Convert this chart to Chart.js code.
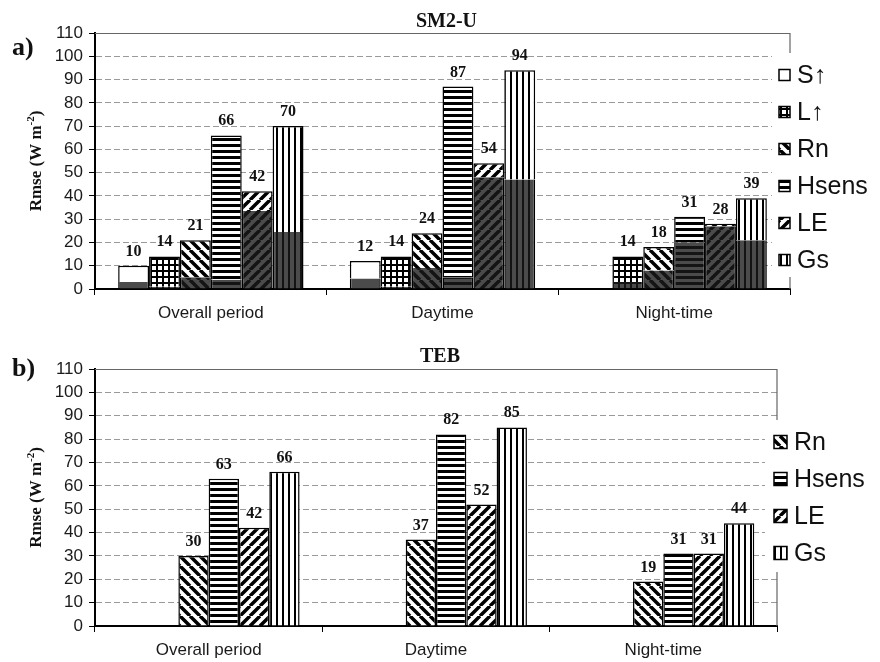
<!DOCTYPE html>
<html lang="en">
<head>
<meta charset="UTF-8" />
<title>Rmse SM2-U / TEB</title>
<script src="https://cdn.jsdelivr.net/npm/chart.js@4"></script>
<style>
  html, body { margin: 0; padding: 0; background: #fff; }
  canvas { display: block; }
</style>
</head>
<body>
<canvas id="chartA" width="880" height="326"></canvas>
<canvas id="chartB" width="880" height="336"></canvas>
<script>
// ---- data ----
const periods = ['Overall period', 'Daytime', 'Night-time'];
const fluxNames = ['S\u2191', 'L\u2191', 'Rn', 'Hsens', 'LE', 'Gs'];
const yMax = 110;
const yStep = 10;

// SM2-U rmse (bar totals)
const sm2uS = [10, 12, null];
const sm2uL = [14, 14, 14];
const sm2uRn = [21, 24, 18];
const sm2uH = [66, 87, 31];
const sm2uLE = [42, 54, 28];
const sm2uGs = [70, 94, 39];
// SM2-U dark lower part of each bar
const sm2uSDark = [3, 4.5, null];
const sm2uLDark = [1, 1, 3];
const sm2uRnDark = [5, 9, 8];
const sm2uHDark = [4, 5, 20];
const sm2uLEDark = [33.5, 48, 27];
const sm2uGsDark = [24.5, 47, 21];

// TEB rmse
const tebS = [null, null, null];
const tebL = [null, null, null];
const tebRn = [30, 37, 19];
const tebH = [63, 82, 31];
const tebLE = [42, 52, 31];
const tebGs = [66, 85, 44];

// ---- hatch patterns ----
const kinds = ['plain', 'grid', 'back', 'horiz', 'fwd', 'vert'];

function hatch(kind, bg, fg) {
  if (kind === 'plain') return bg;
  const c = document.createElement('canvas');
  const g = c.getContext('2d');
  let s = 6;
  if (kind === 'back' || kind === 'fwd') s = 10;
  c.width = s; c.height = s;
  g.fillStyle = bg;
  g.fillRect(0, 0, s, s);
  g.fillStyle = fg;
  g.strokeStyle = fg;
  if (kind === 'grid') {
    g.fillRect(0, 0, s, 2);
    g.fillRect(0, 0, 2, s);
  } else if (kind === 'horiz') {
    g.fillRect(0, 0, s, 3);
  } else if (kind === 'vert') {
    g.fillRect(0, 0, 2, s);
  } else {
    g.lineWidth = 3.5;
    g.beginPath();
    for (let k = -1; k <= 1; k++) {
      if (kind === 'back') { g.moveTo(k * s, 0); g.lineTo(k * s + s, s); }
      else { g.moveTo(k * s, s); g.lineTo(k * s + s, 0); }
    }
    g.stroke();
  }
  return g.createPattern(c, 'repeat');
}

const lightFill = kinds.map(k => hatch(k, '#ffffff', '#000000'));
const darkFill = kinds.map(k => hatch(k, '#4b4b4b', '#141414'));

// ---- drawing helpers (titles, legend, labels, frame) ----
const decor = {
  id: 'decor',
  afterDatasetsDraw(chart) {
    const ctx = chart.ctx;
    const y = chart.scales.y;
    ctx.save();
    ctx.font = 'bold 16px "Liberation Serif", "Times New Roman", serif';
    ctx.fillStyle = '#111';
    ctx.textAlign = 'center';
    ctx.textBaseline = 'alphabetic';
    chart.data.datasets.forEach((ds, di) => {
      if (!ds.totals) return;
      const meta = chart.getDatasetMeta(di);
      ds.totals.forEach((v, i) => {
        if (v == null) return;
        ctx.fillText(String(v), meta.data[i].x, y.getPixelForValue(v) - 10);
      });
    });
    ctx.restore();
  },
  afterDraw(chart, args, o) {
    const ctx = chart.ctx;
    const ca = chart.chartArea;
    ctx.save();
    // frame
    ctx.strokeStyle = '#666';
    ctx.lineWidth = 1.2;
    ctx.beginPath();
    ctx.moveTo(ca.left, ca.top + 0.5);
    ctx.lineTo(ca.right, ca.top + 0.5);
    ctx.lineTo(ca.right, ca.bottom);
    ctx.stroke();
    // legend
    const lb = o.legendBg;
    ctx.fillStyle = '#fff';
    ctx.fillRect(lb[0], lb[1], lb[2], lb[3]);
    ctx.font = '25px "Liberation Sans", Arial, sans-serif';
    ctx.textAlign = 'left';
    ctx.textBaseline = 'middle';
    let row = 0;
    chart.data.datasets.forEach(ds => {
      if (!ds.inLegend) return;
      const cy = o.legendY + row * o.legendGap;
      const b = o.boxSize;
      ctx.fillStyle = ds.backgroundColor;
      ctx.fillRect(o.legendX, cy - b / 2, b, b);
      ctx.strokeStyle = '#000';
      ctx.lineWidth = 1.5;
      ctx.strokeRect(o.legendX, cy - b / 2, b, b);
      ctx.fillStyle = '#111';
      ctx.fillText(ds.label, o.legendX + b + 7, cy + 1);
      row++;
    });
    // title and panel letter
    ctx.fillStyle = '#111';
    ctx.textBaseline = 'alphabetic';
    ctx.textAlign = 'center';
    ctx.font = 'bold 20px "Liberation Serif", "Times New Roman", serif';
    ctx.fillText(o.title, (ca.left + ca.right) / 2 + 4, o.titleBase);
    ctx.textAlign = 'left';
    ctx.font = 'bold 26px "Liberation Serif", "Times New Roman", serif';
    ctx.fillText(o.letter, 12, o.letterBase);
    // y axis title with superscript
    const cy = (ca.top + ca.bottom) / 2;
    ctx.translate(41, cy);
    ctx.rotate(-Math.PI / 2);
    const big = 'bold 17px "Liberation Serif", "Times New Roman", serif';
    const small = 'bold 11px "Liberation Serif", "Times New Roman", serif';
    ctx.font = big;
    const w1 = ctx.measureText('Rmse (W m').width;
    const w3 = ctx.measureText(')').width;
    ctx.font = small;
    const w2 = ctx.measureText('-2').width;
    let x = -(w1 + w2 + w3) / 2;
    ctx.font = big;
    ctx.fillText('Rmse (W m', x, 0);
    x += w1;
    ctx.font = small;
    ctx.fillText('-2', x, -7);
    x += w2;
    ctx.font = big;
    ctx.fillText(')', x, 0);
    ctx.restore();
  }
};

function scalesFor(stacked, xHeight) {
  return {
    x: {
      stacked: stacked,
      grid: { display: true, drawOnChartArea: false, tickLength: 6, tickColor: '#000', tickWidth: 1 },
      border: { display: true, color: '#000', width: 2 },
      ticks: { color: '#1a1a1a', padding: 8, font: { family: '"Liberation Sans", Arial, sans-serif', size: 17 } },
      afterFit: s => { s.height = xHeight; }
    },
    y: {
      stacked: stacked,
      min: 0,
      max: yMax,
      grid: { color: '#9a9a9a', lineWidth: 1, tickLength: 6, tickColor: '#000', tickWidth: 1, tickBorderDash: [] },
      border: { display: true, color: '#000', width: 2, dash: [6, 3] },
      ticks: { stepSize: yStep, autoSkip: false, color: '#1a1a1a', padding: 6, font: { family: '"Liberation Sans", Arial, sans-serif', size: 17 } },
      afterFit: s => { s.width = 95; }
    }
  };
}

// ---- panel a: SM2-U ----
const sm2uTotals = [sm2uS, sm2uL, sm2uRn, sm2uH, sm2uLE, sm2uGs];
const sm2uDark = [sm2uSDark, sm2uLDark, sm2uRnDark, sm2uHDark, sm2uLEDark, sm2uGsDark];
const datasetsA = [];
fluxNames.forEach((name, k) => {
  datasetsA.push({
    label: name + ' dark',
    stack: name,
    data: sm2uDark[k],
    backgroundColor: darkFill[k],
    borderColor: '#000',
    borderWidth: { left: 1.5, right: 1.5, top: 0, bottom: 0 }
  });
  datasetsA.push({
    label: name,
    stack: name,
    inLegend: true,
    totals: sm2uTotals[k],
    data: sm2uTotals[k].map((v, i) => v == null ? null : v - sm2uDark[k][i]),
    backgroundColor: lightFill[k],
    borderColor: '#000',
    borderWidth: { left: 1.5, right: 1.5, top: 1.5, bottom: 0 }
  });
});

new Chart(document.getElementById('chartA'), {
  type: 'bar',
  data: { labels: periods, datasets: datasetsA },
  options: {
    responsive: false,
    animation: false,
    categoryPercentage: 0.8,
    barPercentage: 1.0,
    layout: { padding: { top: 33, right: 90, left: 0, bottom: 0 } },
    scales: scalesFor(true, 37),
    plugins: {
      legend: { display: false },
      tooltip: { enabled: false },
      decor: {
        title: 'SM2-U', titleBase: 27, letter: 'a)', letterBase: 55,
        legendBg: [772, 53, 108, 224], legendX: 779, legendY: 75, legendGap: 37, boxSize: 11
      }
    }
  },
  plugins: [decor]
});

// ---- panel b: TEB ----
const tebTotals = [tebS, tebL, tebRn, tebH, tebLE, tebGs];
const datasetsB = fluxNames.map((name, k) => ({
  label: name,
  inLegend: k >= 2,
  totals: tebTotals[k],
  data: tebTotals[k],
  backgroundColor: lightFill[k],
  borderColor: '#000',
  borderWidth: { left: 1.5, right: 1.5, top: 1.5, bottom: 0 }
}));

new Chart(document.getElementById('chartB'), {
  type: 'bar',
  data: { labels: periods, datasets: datasetsB },
  options: {
    responsive: false,
    animation: false,
    categoryPercentage: 0.8,
    barPercentage: 1.0,
    layout: { padding: { top: 43, right: 103, left: 0, bottom: 0 } },
    scales: scalesFor(false, 36),
    plugins: {
      legend: { display: false },
      tooltip: { enabled: false },
      decor: {
        title: 'TEB', titleBase: 36, letter: 'b)', letterBase: 50,
        legendBg: [765, 94, 115, 152], legendX: 774, legendY: 116, legendGap: 37, boxSize: 13
      }
    }
  },
  plugins: [decor]
});
</script>
</body>
</html>
